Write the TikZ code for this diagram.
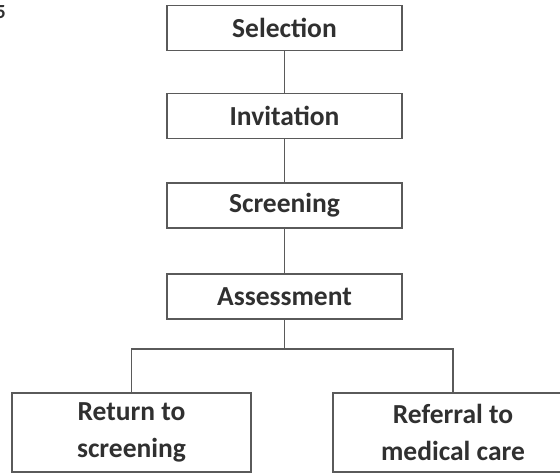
\documentclass[tikz,border=0pt]{standalone}
\usepackage{fontspec}
\setmainfont{Carlito}
\definecolor{linegray}{HTML}{5A5A5A}
\definecolor{textgray}{HTML}{303030}
\begin{document}
\begin{tikzpicture}[x=1pt,y=-1pt,
  stagebox/.style={draw=linegray, line width=1.8pt, fill=white, minimum width=235pt, minimum height=45pt, inner sep=0pt,
    font=\fontsize{27.5}{37}\selectfont\bfseries, text=textgray},
  outbox/.style={draw=linegray, line width=1.8pt, fill=white, minimum height=79pt, inner sep=0pt, align=center,
    font=\fontsize{27.5}{37}\selectfont\bfseries, text=textgray},
  link/.style={draw=linegray, line width=1.5pt}]
\useasboundingbox (0,0) rectangle (560,473);
\fill[white] (0,0) rectangle (560,473);
\node[anchor=east, font=\fontsize{20}{24}\selectfont\bfseries, text=textgray, inner sep=0pt] (frag) at (6,12) {5};
\node[stagebox] (sel) at (284.5,28) {Selection};
\node[stagebox] (inv) at (284.5,116) {Invitation};
\node[stagebox] (scr) at (284.5,205.5) {Screening};
\node[stagebox] (ass) at (284.5,296.5) {Assessment};
\node[outbox, minimum width=239pt] (ret) at (131.5,432.5) {Return to\\screening};
\node[outbox, minimum width=240pt] (ref) at (453,432.5) {Referral to\\medical care};
\coordinate (j) at (284.5,349);
\draw[link] (sel.south) -- (inv.north);
\draw[link] (inv.south) -- (scr.north);
\draw[link] (scr.south) -- (ass.north);
\draw[link] (ass.south) -- (j);
\draw[link] (ret.north) |- (j) -| (ref.north);
\end{tikzpicture}
\end{document}
